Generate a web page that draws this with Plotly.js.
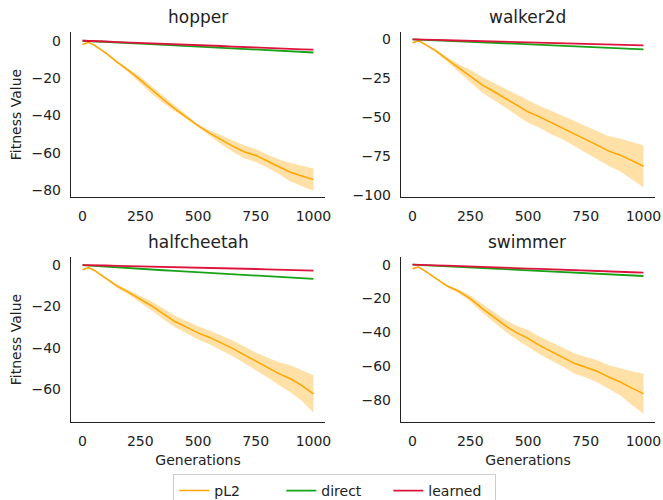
<!DOCTYPE html>
<html><head><meta charset="utf-8">
<script src="https://cdn.plot.ly/plotly-3.0.1.min.js"></script>
<style>html,body{margin:0;padding:0;background:#fff}#chart{width:663px;height:500px}</style>
</head><body><div id="chart"></div>
<script>
const generations = [0,25,50,100,150,200,250,300,350,400,450,500,550,600,650,700,750,800,850,900,950,1000];
const envNames = ["hopper","walker2d","halfcheetah","swimmer"];
const seriesNames = ["pL2","direct","learned"];

// pL2 mean and spread (half-width of shaded band)
const hopperPL2 = [-2,-0.8,-2.3,-6.5,-11.5,-16,-21,-26.5,-31.5,-36.5,-41,-45.5,-49.5,-53,-56.5,-59.5,-61.5,-64.5,-67.5,-70.5,-72.5,-74.5];
const hopperPL2Spread = [0.3,0.3,0.4,0.5,0.6,1,1.8,2,2,1.5,1,0.7,1.5,2.5,3,3.5,3.5,3.5,4,5,5.5,6];
const walkerPL2 = [-2.1,-0.8,-2.8,-7.2,-12.8,-18.4,-23.5,-29,-33.3,-37.6,-41.9,-46.5,-49.8,-53.4,-56.6,-60.5,-64,-67.9,-71.8,-74.4,-77.9,-81.5];
const walkerPL2Spread = [0.3,0.3,0.5,0.8,1.5,2.5,4,5,5.5,6,6.5,7,7,7.5,7.5,8,8.5,9,9.5,10.5,12,13.5];
const halfcheetahPL2 = [-2.3,-1.2,-2.5,-6.5,-10.2,-13.2,-16.3,-19.8,-23.6,-27.3,-30,-32.8,-35,-37.6,-40.3,-43.4,-46.5,-49.5,-52.5,-55,-58.3,-62.3];
const halfcheetahPL2Spread = [0.3,0.3,0.4,0.5,0.8,1.2,1.7,2.2,2.6,2.8,3,3.2,3.3,3.5,3.8,4,4.2,4.8,5.5,6.5,7.5,9];
const swimmerPL2 = [-2.4,-1.4,-3.4,-7.9,-12.6,-15.7,-20,-25.6,-30.9,-35.8,-40.1,-43.5,-47.6,-51.1,-54.5,-58.2,-60.5,-62.9,-66.3,-69.2,-72.8,-76.1];
const swimmerPL2Spread = [0.3,0.3,0.4,0.5,0.6,1,1.8,2.5,3,3.5,4,5,5.2,5.5,5.5,6,6,6.5,7,8,10,11.8];

const hopperDirect = [0,-0.1,-0.3,-0.6,-0.9,-1.2,-1.5,-1.8,-2.1,-2.5,-2.8,-3.1,-3.4,-3.7,-4.0,-4.4,-4.7,-5.0,-5.4,-5.7,-6.0,-6.3];
const hopperLearned = [0,0,-0.2,-0.4,-0.7,-0.9,-1.1,-1.4,-1.6,-1.8,-2.1,-2.3,-2.6,-2.8,-3.1,-3.4,-3.6,-3.9,-4.1,-4.4,-4.6,-4.8];
const walkerDirect = [0,-0.1,-0.3,-0.6,-0.9,-1.2,-1.5,-1.8,-2.1,-2.5,-2.8,-3.1,-3.4,-3.8,-4.1,-4.4,-4.8,-5.1,-5.4,-5.8,-6.1,-6.4];
const walkerLearned = [0,0,-0.1,-0.3,-0.5,-0.7,-0.9,-1.1,-1.3,-1.5,-1.7,-1.9,-2.1,-2.3,-2.5,-2.7,-2.9,-3.1,-3.3,-3.5,-3.6,-3.8];
const halfcheetahDirect = [0,-0.2,-0.4,-0.7,-1.1,-1.4,-1.8,-2.1,-2.5,-2.8,-3.1,-3.4,-3.8,-4.1,-4.4,-4.8,-5.1,-5.4,-5.8,-6.1,-6.4,-6.7];
const halfcheetahLearned = [0,0,-0.1,-0.2,-0.4,-0.5,-0.6,-0.7,-0.9,-1.0,-1.1,-1.2,-1.4,-1.5,-1.6,-1.8,-1.9,-2.1,-2.2,-2.4,-2.5,-2.7];
const swimmerDirect = [0,-0.2,-0.4,-0.7,-1.0,-1.4,-1.7,-2.0,-2.4,-2.7,-3.0,-3.4,-3.7,-4.0,-4.4,-4.7,-5.0,-5.4,-5.7,-6.0,-6.4,-6.7];
const swimmerLearned = [0,0,-0.2,-0.4,-0.6,-0.9,-1.1,-1.3,-1.6,-1.8,-2.0,-2.3,-2.5,-2.8,-3.0,-3.3,-3.5,-3.8,-4.0,-4.3,-4.5,-4.7];

const yTickStep = [20,25,20,20];
const yRanges = [[-83.8,4.7],[-101.3,4.8],[-75.9,3.9],[-92.8,4.5]];

const pl2Means = [hopperPL2, walkerPL2, halfcheetahPL2, swimmerPL2];
const pl2Spreads = [hopperPL2Spread, walkerPL2Spread, halfcheetahPL2Spread, swimmerPL2Spread];
const directs = [hopperDirect, walkerDirect, halfcheetahDirect, swimmerDirect];
const learneds = [hopperLearned, walkerLearned, halfcheetahLearned, swimmerLearned];

const colors = {pL2:"#ffa500", direct:"#17a317", learned:"#dc143c"};
const bandColor = "rgba(255,165,0,0.35)";

const traces = [];
envNames.forEach((env, i) => {
  const xa = i === 0 ? "x" : "x" + (i+1);
  const ya = i === 0 ? "y" : "y" + (i+1);
  const upper = pl2Means[i].map((m,k) => m + pl2Spreads[i][k]);
  const lower = pl2Means[i].map((m,k) => m - pl2Spreads[i][k]);
  traces.push({x: generations, y: upper, xaxis: xa, yaxis: ya, mode: "lines", line: {width: 0, color: bandColor}, showlegend: false, hoverinfo: "skip"});
  traces.push({x: generations, y: lower, xaxis: xa, yaxis: ya, mode: "lines", line: {width: 0, color: bandColor}, fill: "tonexty", fillcolor: bandColor, showlegend: false, hoverinfo: "skip"});
  traces.push({x: generations, y: pl2Means[i], xaxis: xa, yaxis: ya, mode: "lines", name: "pL2", line: {color: colors.pL2, width: 1.5}, showlegend: i === 0, legendrank: 1});
  traces.push({x: generations, y: directs[i], xaxis: xa, yaxis: ya, mode: "lines", name: "direct", line: {color: colors.direct, width: 1.8}, showlegend: i === 0, legendrank: 2});
  traces.push({x: generations, y: learneds[i], xaxis: xa, yaxis: ya, mode: "lines", name: "learned", line: {color: colors.learned, width: 1.8}, showlegend: i === 0, legendrank: 3});
});

const W = 663, H = 500;
const xDomains = [[71/W, 325/W],[401/W, 655/W],[71/W, 325/W],[401/W, 655/W]];
const yDomains = [[1-197/H, 1-32/H],[1-197/H, 1-32/H],[1-422/H, 1-257/H],[1-422/H, 1-257/H]];
const font = {family: "DejaVu Sans, sans-serif", size: 14, color: "#222"};

const layout = {
  width: W, height: H,
  margin: {l: 0, r: 0, t: 0, b: 0, autoexpand: false},
  paper_bgcolor: "#fff", plot_bgcolor: "#fff",
  font: font,
  showlegend: true,
  legend: {orientation: "h", x: 0.505, xanchor: "center", y: 0.052, yanchor: "top",
    bordercolor: "#cccccc", borderwidth: 1, bgcolor: "#fff", font: {family: font.family, size: 14, color: "#222"},
    traceorder: "normal", itemwidth: 30, entrywidth: 62, entrywidthmode: "pixels"},
  annotations: [],
  hovermode: false
};
const titlePos = [[198/W, 1-17/H],[527/W, 1-17/H],[198/W, 1-242/H],[527/W, 1-242/H]];
envNames.forEach((env, i) => {
  const sfx = i === 0 ? "" : String(i+1);
  layout["xaxis" + sfx] = {
    domain: xDomains[i], anchor: "y" + sfx, range: [-50, 1050], dtick: 250, tick0: 0,
    showline: true, linecolor: "#222", linewidth: 1.2, showgrid: false, zeroline: false,
    ticks: "outside", ticklen: 6, tickcolor: "rgba(0,0,0,0)",
    tickfont: {family: font.family, size: 14, color: "#222"},
    title: i >= 2 ? {text: "Generations", font: {family: font.family, size: 14, color: "#222"}, standoff: 7} : undefined
  };
  layout["yaxis" + sfx] = {
    domain: yDomains[i], anchor: "x" + sfx, range: yRanges[i], dtick: yTickStep[i], tick0: 0,
    showline: true, linecolor: "#222", linewidth: 1.2, showgrid: false, zeroline: false,
    ticks: "outside", ticklen: 6, tickcolor: "rgba(0,0,0,0)",
    tickfont: {family: font.family, size: 14, color: "#222"},
    title: (i % 2 === 0) ? {text: "Fitness Value", font: {family: font.family, size: 14, color: "#222"}, standoff: 6} : undefined
  };
  layout.annotations.push({text: env, x: titlePos[i][0], y: titlePos[i][1], xref: "paper", yref: "paper",
    xanchor: "center", yanchor: "middle", showarrow: false, font: {family: font.family, size: 17, color: "#222"}});
});

Plotly.newPlot("chart", traces, layout, {displayModeBar: false, staticPlot: true});
</script>
</body></html>
